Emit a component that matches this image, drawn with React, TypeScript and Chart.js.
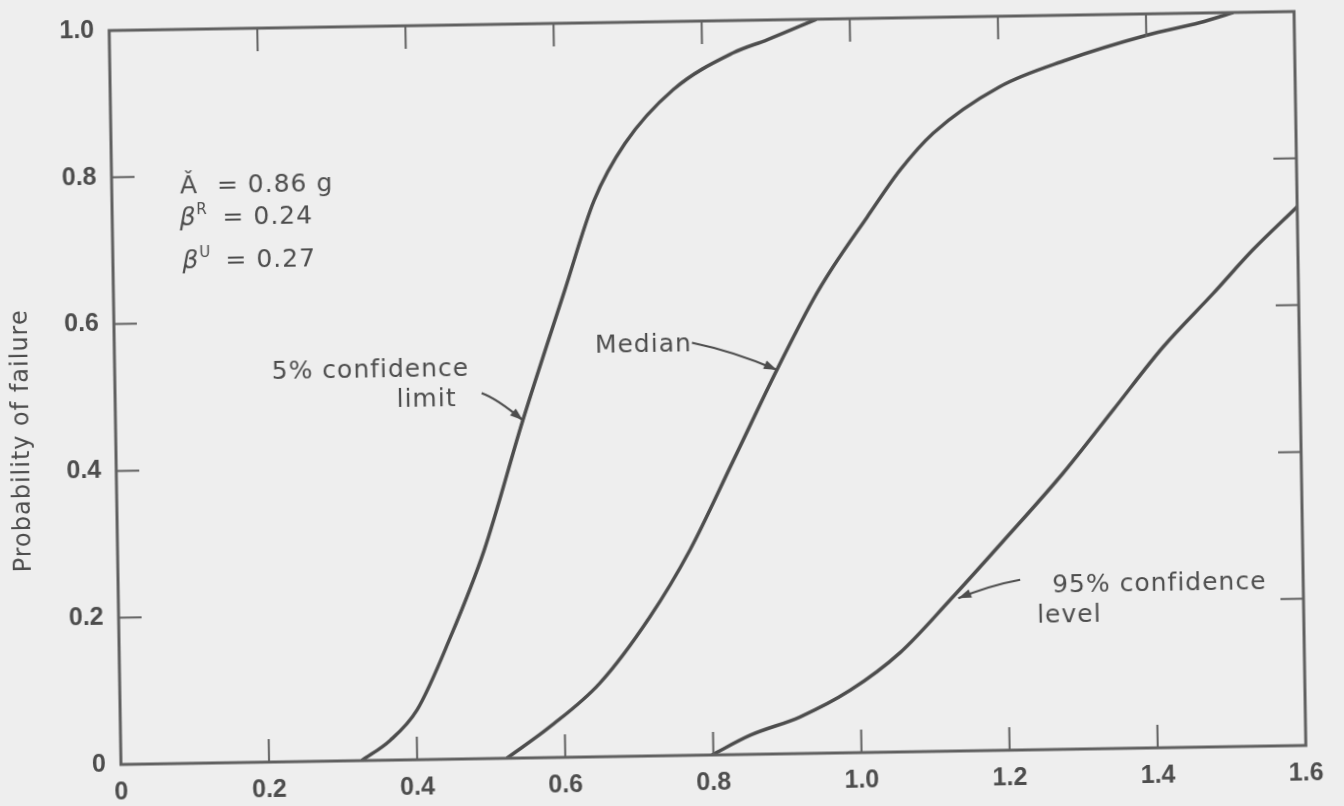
import React, { useEffect, useRef } from "react";
import { Chart, registerables } from "chart.js";

Chart.register(...registerables);

// ---- data ----
const xTickLabels = ["0", "0.2", "0.4", "0.6", "0.8", "1.0", "1.2", "1.4", "1.6"];
const yTickLabels = ["0", "0.2", "0.4", "0.6", "0.8", "1.0"];

const fivePctX = [0.325, 0.364, 0.401, 0.447, 0.495, 0.55, 0.609, 0.651, 0.694, 0.76, 0.842, 0.888, 0.955];
const fivePctY = [0, 0.027, 0.068, 0.165, 0.284, 0.46, 0.635, 0.758, 0.835, 0.907, 0.956, 0.973, 1.0];

const medianX = [0.521, 0.58, 0.648, 0.717, 0.773, 0.833, 0.894, 0.944, 0.972, 1.019, 1.065, 1.11, 1.201, 1.292, 1.401, 1.473, 1.518];
const medianY = [0, 0.042, 0.1, 0.189, 0.28, 0.4, 0.523, 0.617, 0.662, 0.729, 0.793, 0.842, 0.904, 0.939, 0.971, 0.987, 1.0];

const ninetyFiveX = [0.798, 0.85, 0.918, 0.986, 1.054, 1.123, 1.196, 1.278, 1.347, 1.416, 1.485, 1.539, 1.6];
const ninetyFiveY = [0, 0.026, 0.05, 0.085, 0.135, 0.206, 0.285, 0.376, 0.461, 0.546, 0.618, 0.676, 0.734];

const seriesNames = ["5% confidence limit", "Median", "95% confidence level"];

const yTitle = "Probability of failure";
const yTitleAt = 0.443;

const paramSymbols = ["Ǎ", "β", "β"];
const paramSupers = ["", "R", "U"];
const paramValues = ["= 0.86 g", "= 0.24", "= 0.27"];
const paramSymbolX = [0.092, 0.091, 0.094];
const paramValueX = [0.142, 0.149, 0.152];
const paramBaseY = [0.777, 0.733, 0.675];

const labelTexts = ["5% confidence", "limit", "Median", "95% confidence", "level"];
const labelX = [0.212, 0.38, 0.649, 1.261, 1.24];
const labelY = [0.522, 0.481, 0.55, 0.214, 0.173];

// arrows: start, control, tip (data coords)
const arrowStarts = [[0.495, 0.498], [0.78, 0.562], [1.218, 0.232]];
const arrowControls = [[0.516, 0.49], [0.838, 0.549], [1.177, 0.225]];
const arrowTips = [[0.55, 0.46], [0.894, 0.523], [1.134, 0.208]];

// ---- styles ----
const FONT = "'DejaVu Sans', 'Liberation Sans', sans-serif";
const TICK_FONT = "'Liberation Sans', Arial, sans-serif";
const INK = "#4d4d4d";
const AXIS_INK = "#606060";
const BG = "#eeeeee";

const toPoints = (xs: number[], ys: number[]) => xs.map((x, i) => ({ x, y: ys[i] }));

const framePlugin = {
  id: "frame",
  afterDatasetsDraw(chart: any) {
    const { ctx, chartArea, scales } = chart;
    const { left, right, top, bottom } = chartArea;
    const xs = scales.x;
    const ys = scales.y;
    const tick = 23;
    ctx.save();
    ctx.strokeStyle = AXIS_INK;
    ctx.lineCap = "butt";
    ctx.lineWidth = 2;
    xs.ticks.forEach((t: any, i: number) => {
      if (i === 0 || i === xs.ticks.length - 1) return;
      const p = xs.getPixelForValue(t.value);
      ctx.beginPath();
      ctx.moveTo(p, bottom);
      ctx.lineTo(p, bottom - tick);
      ctx.moveTo(p, top);
      ctx.lineTo(p, top + tick);
      ctx.stroke();
    });
    ys.ticks.forEach((t: any, i: number) => {
      if (i === 0 || i === ys.ticks.length - 1) return;
      const p = ys.getPixelForValue(t.value);
      ctx.beginPath();
      ctx.moveTo(left, p);
      ctx.lineTo(left + tick, p);
      ctx.moveTo(right, p);
      ctx.lineTo(right - tick, p);
      ctx.stroke();
    });
    ctx.lineWidth = 3;
    ctx.lineJoin = "miter";
    ctx.strokeRect(left, top, right - left, bottom - top);
    ctx.restore();
  },
};

const annotationPlugin = {
  id: "annotations",
  afterDraw(chart: any) {
    const { ctx, scales, chartArea } = chart;
    const px = (v: number) => scales.x.getPixelForValue(v);
    const py = (v: number) => scales.y.getPixelForValue(v);
    ctx.save();
    ctx.fillStyle = INK;
    ctx.strokeStyle = INK;
    ctx.textAlign = "left";
    ctx.textBaseline = "alphabetic";
    (ctx as any).letterSpacing = "1px";

    // parameter block
    paramSymbols.forEach((s, i) => {
      ctx.font = (i === 0 ? "" : "italic ") + `25px ${FONT}`;
      const sx = px(paramSymbolX[i]);
      const sy = py(paramBaseY[i]);
      ctx.fillText(s, sx, sy);
      const w = ctx.measureText(s).width;
      if (paramSupers[i]) {
        ctx.font = `15px ${FONT}`;
        ctx.fillText(paramSupers[i], sx + w, sy - 11);
      }
      ctx.font = `25px ${FONT}`;
      ctx.fillText(paramValues[i], px(paramValueX[i]), sy);
    });

    // curve labels
    ctx.font = `25px ${FONT}`;
    labelTexts.forEach((t, i) => {
      ctx.fillText(t, px(labelX[i]), py(labelY[i]));
    });

    // arrows
    ctx.lineWidth = 2.2;
    arrowStarts.forEach((s, i) => {
      const c = arrowControls[i];
      const e = arrowTips[i];
      const sx = px(s[0]), sy = py(s[1]);
      const cx = px(c[0]), cy = py(c[1]);
      const ex = px(e[0]), ey = py(e[1]);
      ctx.beginPath();
      ctx.moveTo(sx, sy);
      ctx.quadraticCurveTo(cx, cy, ex, ey);
      ctx.stroke();
      const ang = Math.atan2(ey - cy, ex - cx);
      const L = 13, W = 4.5;
      ctx.beginPath();
      ctx.moveTo(ex, ey);
      ctx.lineTo(ex - L * Math.cos(ang) + W * Math.sin(ang), ey - L * Math.sin(ang) - W * Math.cos(ang));
      ctx.lineTo(ex - L * Math.cos(ang) - W * Math.sin(ang), ey - L * Math.sin(ang) + W * Math.cos(ang));
      ctx.closePath();
      ctx.fill();
    });

    // y-axis title
    ctx.font = `24px ${FONT}`;
    ctx.textAlign = "center";
    ctx.textBaseline = "middle";
    ctx.translate(chartArea.left - 93, py(yTitleAt));
    ctx.rotate(-Math.PI / 2);
    ctx.fillText(yTitle, 0, 0);
    ctx.restore();
  },
};

export default function App() {
  const ref = useRef<HTMLCanvasElement | null>(null);

  useEffect(() => {
    if (!ref.current) return;
    const lineStyle = {
      borderColor: INK,
      borderWidth: 3.5,
      pointRadius: 0,
      fill: false,
      cubicInterpolationMode: "monotone" as const,
    };
    const chart = new Chart(ref.current, {
      type: "line",
      data: {
        datasets: [
          { label: seriesNames[0], data: toPoints(fivePctX, fivePctY), ...lineStyle },
          { label: seriesNames[1], data: toPoints(medianX, medianY), ...lineStyle },
          { label: seriesNames[2], data: toPoints(ninetyFiveX, ninetyFiveY), ...lineStyle },
        ],
      },
      options: {
        responsive: false,
        animation: false,
        devicePixelRatio: 1,
        layout: { padding: { top: 21, right: 44, bottom: 0, left: 0 } },
        plugins: {
          legend: { display: false },
          tooltip: { enabled: false },
          title: { display: false },
        },
        scales: {
          x: {
            type: "linear",
            min: 0,
            max: 1.6,
            afterFit: (s: any) => {
              s.height = 51;
              s.paddingLeft = 0;
              s.paddingRight = 0;
            },
            grid: { display: false, drawTicks: false },
            border: { display: false },
            ticks: {
              stepSize: 0.2,
              padding: 13,
              color: INK,
              font: { family: TICK_FONT, size: 25, weight: "bold" },
              maxRotation: 0,
              autoSkip: false,
              callback: (_v: any, i: number) => xTickLabels[i],
            },
          },
          y: {
            type: "linear",
            min: 0,
            max: 1,
            afterFit: (s: any) => {
              s.width = 115;
              s.paddingTop = 0;
              s.paddingBottom = 0;
            },
            grid: { display: false, drawTicks: false },
            border: { display: false },
            ticks: {
              stepSize: 0.2,
              padding: 15,
              color: INK,
              font: { family: TICK_FONT, size: 25, weight: "bold" },
              autoSkip: false,
              callback: (_v: any, i: number) => yTickLabels[i],
            },
          },
        },
      },
      plugins: [framePlugin, annotationPlugin],
    });
    return () => chart.destroy();
  }, []);

  return (
    <div
      style={{
        position: "fixed",
        left: 0,
        top: 0,
        width: 1344,
        height: 806,
        overflow: "hidden",
        background: BG,
      }}
    >
      <canvas
        ref={ref}
        width={1344}
        height={806}
        style={{
          display: "block",
          width: 1344,
          height: 806,
          transform: "rotate(-0.92deg)",
          transformOrigin: "707.5px 388px",
        }}
      />
    </div>
  );
}
